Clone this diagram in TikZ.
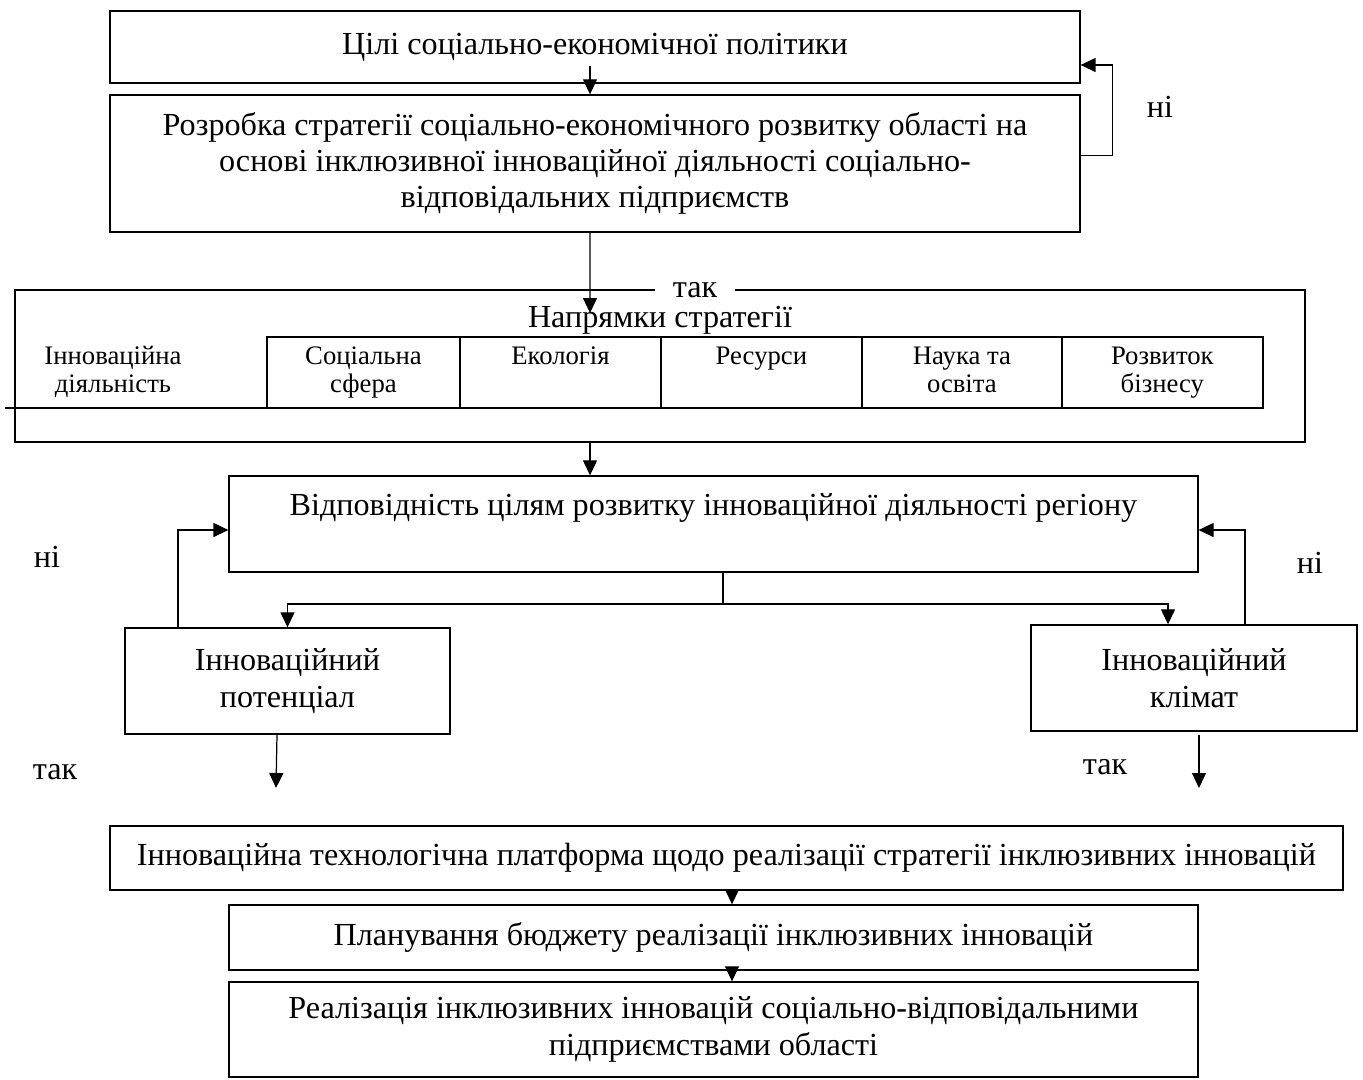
\documentclass[tikz,border=0pt]{standalone}
\usepackage{fontspec}
\setmainfont{Liberation Serif}
\usetikzlibrary{arrows.meta,positioning,calc}

\begin{document}
\begin{tikzpicture}[
    x=0.02cm, y=-0.02cm,
    box/.style={rectangle, draw, line width=0.8pt, align=center, inner sep=0pt, font=\fontsize{18.3}{20.7}\selectfont},
    cell/.style={rectangle, draw, line width=1.5pt, align=center, inner sep=0pt, outer sep=0pt, minimum height=1.42cm, font=\fontsize{15.2}{16}\selectfont},
    lbl/.style={inner sep=1pt, font=\fontsize{18.3}{20.7}\selectfont},
    arrow/.style={-{Triangle[width=0.28cm,length=0.3cm]}, line width=0.7pt},
    link/.style={line width=0.7pt}
]
    \useasboundingbox (0,0) rectangle (1363,1079);

    % Goals and strategy
    \node[box, minimum width=19.4cm, minimum height=1.44cm] (goals) at (595,47) {Цілі соціально-економічної політики};
    \node[box, minimum width=19.4cm, minimum height=2.74cm] (dev) at (595,163.5) {Розробка стратегії соціально-економічного розвитку області на\\основі інклюзивної інноваційної діяльності соціально-\\відповідальних підприємств};

    % Directions of the strategy
    \node[box, minimum width=25.8cm, minimum height=3.04cm] (dirs) at (660,366) {};
    \node[lbl, fill=white, inner xsep=0.36cm] (yes1) at (695,290) {так};
    \node[lbl] (dirtitle) at (660,320) {Напрямки стратегії};
    \node[cell, draw=none] (innov) at (113,372.5) {\strut Інноваційна\\\strut діяльність};
    \node[cell, minimum width=3.86cm] (social) at (363.5,372.5) {\strut Соціальна\\\strut сфера};
    \node[cell, minimum width=4.02cm, right=0pt of social] (ecology) {\strut Екологія\\\strut};
    \node[cell, minimum width=4.02cm, right=0pt of ecology] (resources) {\strut Ресурси\\\strut};
    \node[cell, minimum width=4cm, right=0pt of resources] (science) {\strut Наука та\\\strut освіта};
    \node[cell, minimum width=4.02cm, right=0pt of science] (business) {\strut Розвиток\\\strut бізнесу};
    \coordinate (dirin) at (590,313);

    % Compliance check
    \node[box, minimum width=19.38cm, text height=0.78cm, text depth=1.14cm] (match) at (713.5,524) {Відповідність цілям розвитку інноваційної діяльності регіону};
    \node[box, minimum width=6.5cm, minimum height=2.12cm] (potential) at (287.5,681) {Інноваційний\\потенціал};
    \node[box, minimum width=6.52cm, minimum height=2.12cm] (climate) at (1194,678) {Інноваційний\\клімат};
    \coordinate (split) at (723,604);
    \coordinate (potout) at (276,788);
    \coordinate (climout) at (1199,788);

    % Platform, budget, realisation
    \node[box, minimum width=24.66cm, minimum height=1.28cm] (platform) at (726.5,858) {Інноваційна технологічна платформа щодо реалізації стратегії інклюзивних інновацій};
    \node[box, minimum width=19.38cm, minimum height=1.3cm] (budget) at (713.5,937.5) {Планування бюджету реалізації інклюзивних інновацій};
    \node[box, minimum width=19.38cm, minimum height=1.9cm] (impl) at (713.5,1029.5) {Реалізація інклюзивних інновацій соціально-відповідальними\\підприємствами області};
    \coordinate (axis) at (732,0);

    % Labels
    \node[lbl] (no1) at (1160,107) {ні};
    \node[lbl] (no2) at (47,557) {ні};
    \node[lbl] (no3) at (1310,563) {ні};
    \node[lbl] (yes2) at (55,772) {так};
    \node[lbl] (yes3) at (1105,767) {так};

    % Arrows
    \draw[arrow] ([xshift=-0.1cm,yshift=0.36cm]goals.south) -- ([xshift=-0.1cm]dev.north);
    \draw[arrow] ([yshift=0.16cm]dev.east) -- ++(32,0) |- ([yshift=-0.36cm]goals.east);
    \draw[arrow] ([xshift=-0.1cm]dev.south) -- (dirin);
    \draw[line width=1.2pt] (social.south west) -- ++(-262,0);
    \draw[arrow] (dirs.south -| dirin) -- (match.north -| dirin);

    \draw[link] (match.south -| split) -- (split);
    \draw[arrow] (split) -| (potential.north);
    \draw[arrow] (split) -| ([xshift=-0.52cm]climate.north);
    \draw[arrow] (potential.north -| 178,0) |- ([yshift=-0.12cm]match.west);
    \draw[arrow] (climate.north -| 1245,0) |- ([yshift=-0.12cm]match.east);
    \draw[arrow] (potential.south -| 277,0) -- (potout);
    \draw[arrow] ([yshift=-0.06cm]climate.south -| climout) -- (climout);

    \draw[arrow] (platform.south -| axis) -- (budget.north -| axis);
    \draw[arrow] (budget.south -| axis) -- (impl.north -| axis);
\end{tikzpicture}
\end{document}
